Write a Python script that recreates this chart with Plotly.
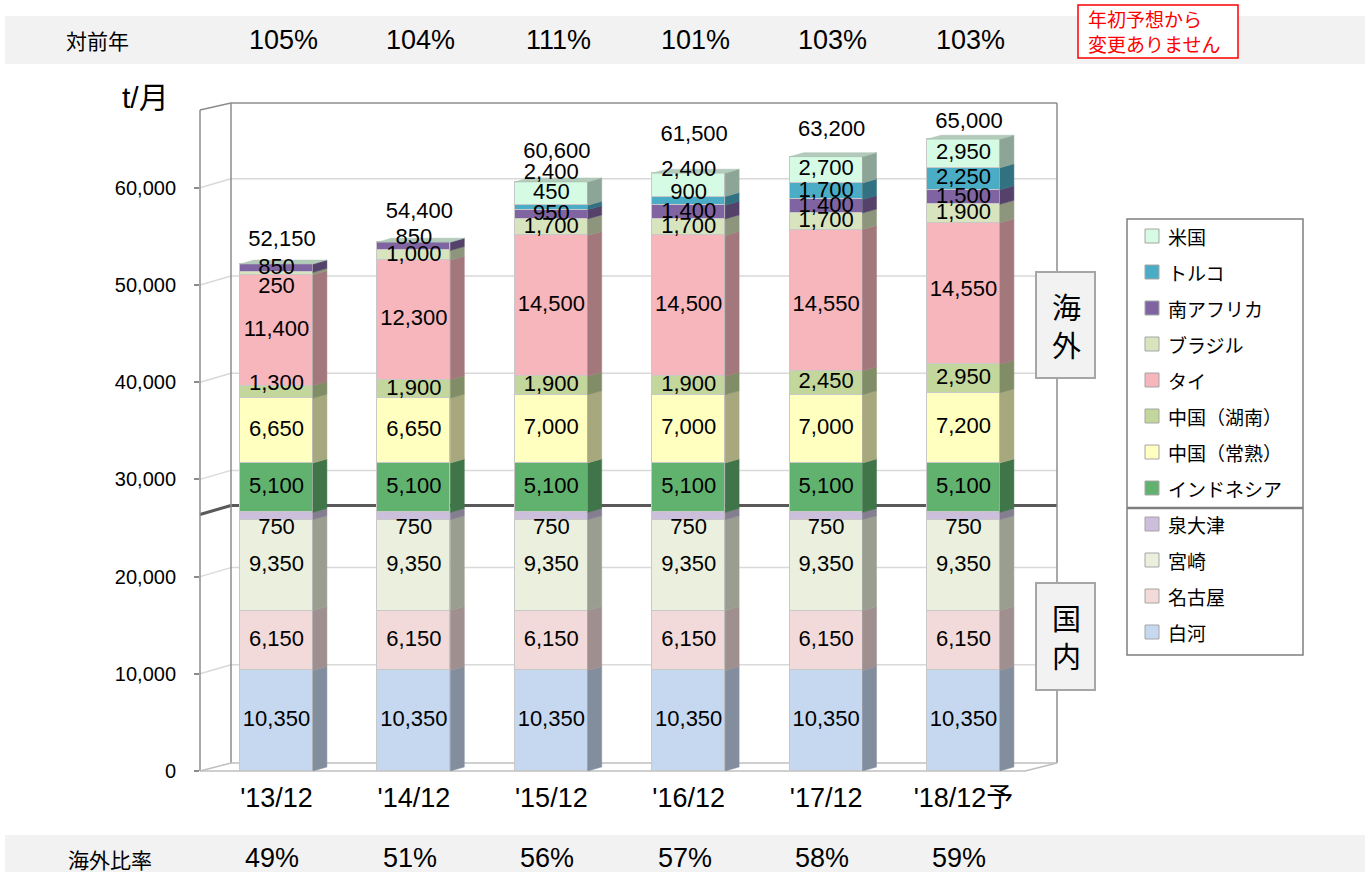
import plotly.graph_objects as go

# ---------------- data ----------------
categories = ["'13/12", "'14/12", "'15/12", "'16/12", "'17/12", "'18/12予"]
shirakawa = [10350, 10350, 10350, 10350, 10350, 10350]
nagoya = [6150, 6150, 6150, 6150, 6150, 6150]
miyazaki = [9350, 9350, 9350, 9350, 9350, 9350]
izumiotsu = [750, 750, 750, 750, 750, 750]
indonesia = [5100, 5100, 5100, 5100, 5100, 5100]
china_changshu = [6650, 6650, 7000, 7000, 7000, 7200]
china_hunan = [1300, 1900, 1900, 1900, 2450, 2950]
thai = [11400, 12300, 14500, 14500, 14550, 14550]
brazil = [250, 1000, 1700, 1700, 1700, 1900]
south_africa = [850, 850, 950, 1400, 1400, 1500]
turkey = [0, 0, 450, 900, 1700, 2250]
usa = [0, 0, 2400, 2400, 2700, 2950]
totals = [52150, 54400, 60600, 61500, 63200, 65000]
yoy_labels = ["105%", "104%", "111%", "101%", "103%", "103%"]
overseas_ratio_labels = ["49%", "51%", "56%", "57%", "58%", "59%"]
y_tick_values = [0, 10000, 20000, 30000, 40000, 50000, 60000]

series_names = ["白河", "名古屋", "宮崎", "泉大津", "インドネシア", "中国（常熟）",
                "中国（湖南）", "タイ", "ブラジル", "南アフリカ", "トルコ", "米国"]
series_values = [shirakawa, nagoya, miyazaki, izumiotsu, indonesia, china_changshu,
                 china_hunan, thai, brazil, south_africa, turkey, usa]
domestic_count = 4

# ---------------- style ----------------
series_colors = ["#c5d8f0", "#f1dad9", "#eaf0dd", "#cbbfdb", "#62b26f", "#ffffbf",
                 "#c3d69b", "#f6b6bc", "#d7e4bd", "#8064a2", "#4bacc6", "#d6fbe4"]
FONT = "Liberation Sans, Arial, Noto Sans CJK JP, sans-serif"
JFONT = "Noto Sans CJK JP, sans-serif"

# label nudges in pixels (positive = up), keyed by (series index, bar index)
label_nudge_px = {(3, i): -12 for i in range(6)}
label_nudge_px.update({(6, 0): 7, (8, 0): -14, (9, 1): 8, (10, 2): 14, (11, 2): 20,
                       (10, 3): 7, (11, 3): 14, (7, 4): -5, (7, 5): 3})
total_offset_px = [24, 30, 29, 38, 26, 17]

# plot geometry in pixels
W, H = 1365, 872
L, R, T, B = 200, 1057, 103, 771
PX_PER_UNIT = 0.00972
UPP = 1 / PX_PER_UNIT
XC0, XSTEP = 276.5, 137.4
BAR_W = 0.53
WALL_DX, WALL_DY = 31, 9
BAR_DX, BAR_DY = 14, 4


def pxx(xp):
    return (xp - L) / (R - L)


def pxy(yp):
    return (B - yp) / (B - T)


def shade(hexc, f):
    r, g, b = int(hexc[1:3], 16), int(hexc[3:5], 16), int(hexc[5:7], 16)
    return "#%02x%02x%02x" % (int(r * f), int(g * f), int(b * f))


xs = list(range(len(categories)))
x_range = [(L - XC0) / XSTEP, (R - XC0) / XSTEP]
y_range = [0, (B - T) * UPP]
bdx = BAR_DX / XSTEP
bdy = BAR_DY * UPP

fig = go.Figure()

# front faces
for name, vals, col in zip(series_names, series_values, series_colors):
    fig.add_trace(go.Bar(x=xs, y=vals, name=name, width=BAR_W,
                         marker=dict(color=col, line=dict(color="#c8c8c8", width=1)),
                         showlegend=False, hoverinfo="name+y"))

# side faces
bases = [0] * len(xs)
label_x, label_y, label_t = [], [], []
for si, (name, vals, col) in enumerate(zip(series_names, series_values, series_colors)):
    sx, sy = [], []
    for i, v in enumerate(vals):
        b0 = bases[i]
        if v > 0:
            xr = xs[i] + BAR_W / 2
            sx += [xr, xr + bdx, xr + bdx, xr, xr, None]
            sy += [b0, b0 + bdy, b0 + v + bdy, b0 + v, b0, None]
            label_x.append(xs[i])
            label_y.append(b0 + v / 2 + label_nudge_px.get((si, i), 0) * UPP)
            label_t.append(f"{v:,}")
        bases[i] = b0 + v
    if sx:
        sc = shade(col, 0.66)
        fig.add_trace(go.Scatter(x=sx, y=sy, mode="lines", fill="toself", fillcolor=sc,
                                 line=dict(color=sc, width=0.5), showlegend=False,
                                 hoverinfo="skip"))

# top faces
tx, ty = [], []
for i, tot in enumerate(totals):
    xl = xs[i] - BAR_W / 2
    xr = xs[i] + BAR_W / 2
    tx += [xl, xr, xr + bdx, xl + bdx, xl, None]
    ty += [tot, tot, tot + bdy, tot + bdy, tot, None]
fig.add_trace(go.Scatter(x=tx, y=ty, mode="lines", fill="toself", fillcolor="#b3cbbb",
                         line=dict(color="#a9bfb1", width=0.5), showlegend=False,
                         hoverinfo="skip"))

# totals labels
for i, tot in enumerate(totals):
    label_x.append(xs[i] + 0.04)
    label_y.append(tot + total_offset_px[i] * UPP)
    label_t.append(f"{tot:,}")

fig.add_trace(go.Scatter(x=label_x, y=label_y, text=label_t, mode="text",
                         textfont=dict(family=FONT, size=22, color="black"),
                         showlegend=False, hoverinfo="skip"))

shapes = []
# gridlines (on back wall + left wall)
for v in y_tick_values[1:]:
    shapes.append(dict(type="line", xref="paper", yref="y", x0=0, y0=v,
                       x1=pxx(L + WALL_DX), y1=v + WALL_DY * UPP,
                       line=dict(color="#d9d9d9", width=1.5), layer="below"))
    shapes.append(dict(type="line", xref="paper", yref="y", x0=pxx(L + WALL_DX),
                       y0=v + WALL_DY * UPP, x1=1, y1=v + WALL_DY * UPP,
                       line=dict(color="#d9d9d9", width=1.5), layer="below"))
# domestic / overseas divider
dom_total = sum(series_values[k][0] for k in range(domestic_count))
shapes.append(dict(type="line", xref="paper", yref="y", x0=0, y0=dom_total - 2 * UPP,
                   x1=pxx(L + WALL_DX), y1=dom_total - 2 * UPP + WALL_DY * UPP,
                   line=dict(color="#595959", width=3), layer="below"))
shapes.append(dict(type="line", xref="paper", yref="y", x0=pxx(L + WALL_DX),
                   y0=dom_total - 2 * UPP + WALL_DY * UPP, x1=1,
                   y1=dom_total - 2 * UPP + WALL_DY * UPP,
                   line=dict(color="#595959", width=3), layer="below"))


def pline(x0, y0, x1, y1, color, width, layer="below"):
    shapes.append(dict(type="line", xref="paper", yref="paper", x0=pxx(x0), y0=pxy(y0),
                       x1=pxx(x1), y1=pxy(y1), line=dict(color=color, width=width),
                       layer=layer))


def prect(x0, y0, x1, y1, fill, color=None, width=0, layer="above"):
    shapes.append(dict(type="rect", xref="paper", yref="paper", x0=pxx(x0), y0=pxy(y0),
                       x1=pxx(x1), y1=pxy(y1), fillcolor=fill,
                       line=dict(color=color if color else fill, width=width),
                       layer=layer))


wall = "#8c8c8c"
floor = "#bfbfbf"
pline(L, B, L, 110, wall, 1.5)
pline(L, 110, L + WALL_DX, T, wall, 1.5)
pline(L + WALL_DX, T, L + WALL_DX, B - 8, wall, 1.5)
pline(L + WALL_DX, T, R, T, wall, 1.5)
pline(R, T, R, B - 8, wall, 1.5)
pline(L + WALL_DX, B - 8, R, B - 8, floor, 1.5)
pline(L, B, 1025, B, floor, 1.5)
pline(1025, B, R, B - 8, floor, 1.5)
pline(L, B, L + WALL_DX, B - 8, floor, 1.5)

# bands
prect(5, 16, 1365, 64, "#f2f2f2", layer="below")
prect(5, 835, 1365, 880, "#f2f2f2", layer="below")
# red note box
prect(1078, 5, 1238, 58, "white", "#ff0000", 1.5)
# region boxes
prect(1036, 272, 1095, 378, "#f2f2f2", "#a6a6a6", 2)
prect(1036, 583, 1095, 690, "#f2f2f2", "#a6a6a6", 2)
# legend box
prect(1127, 219, 1303, 655, "white", "#7f7f7f", 1.5)
pline(1127, 508, 1303, 508, "#7f7f7f", 2.5, layer="above")

annotations = []


def ptext(x, y, text, size, color="black", family=JFONT, xanchor="center", align="center"):
    annotations.append(dict(x=pxx(x), y=pxy(y), xref="paper", yref="paper", text=text,
                            showarrow=False, xanchor=xanchor, yanchor="middle", align=align,
                            font=dict(family=family, size=size, color=color)))


ptext(97, 40, "対前年", 21)
ptext(110, 859, "海外比率", 21)
ptext(145, 97, "t/月", 30, family=FONT)
ptext(1086, 31, "年初予想から<br>変更ありません", 19, color="#ff0000", xanchor="left",
      align="left")
ptext(1066, 325, "海<br>外", 29)
ptext(1066, 636, "国<br>内", 29)

for i, t in enumerate(yoy_labels):
    annotations.append(dict(x=xs[i] + 0.05, y=pxy(40), xref="x", yref="paper", text=t,
                            showarrow=False, yanchor="middle",
                            font=dict(family=FONT, size=27, color="black")))
for i, t in enumerate(overseas_ratio_labels):
    annotations.append(dict(x=xs[i] - 0.03, y=pxy(858), xref="x", yref="paper", text=t,
                            showarrow=False, yanchor="middle",
                            font=dict(family=FONT, size=27, color="black")))

# legend (manual, top to bottom)
for k, si in enumerate(range(len(series_names) - 1, -1, -1)):
    yc = 236 + 36 * k
    prect(1145, yc - 7, 1159, yc + 7, series_colors[si], "#a6a6a6", 1)
    ptext(1166, yc, series_names[si], 19, xanchor="left", align="left")

fig.update_layout(
    width=W, height=H,
    margin=dict(l=L, r=W - R, t=T, b=H - B, pad=0),
    paper_bgcolor="white", plot_bgcolor="rgba(0,0,0,0)",
    barmode="stack", bargap=0,
    showlegend=False,
    shapes=shapes, annotations=annotations,
    xaxis=dict(range=x_range, tickvals=xs, ticktext=categories, showgrid=False,
               zeroline=False, showline=False, ticks="", ticklabelstandoff=8,
               tickfont=dict(family=FONT, size=27, color="black"), fixedrange=True),
    yaxis=dict(range=y_range, tickvals=y_tick_values,
               ticktext=[f"{v:,}" for v in y_tick_values], showgrid=False,
               zeroline=False, showline=False, ticks="outside", ticklen=5,
               tickcolor=wall, tickwidth=1.5, ticklabelstandoff=14,
               tickfont=dict(family=FONT, size=20, color="black"), fixedrange=True),
)

fig.write_html("out.html", config={"displayModeBar": False},
               post_script="document.body.style.margin='0';document.body.style.overflow='hidden';")
